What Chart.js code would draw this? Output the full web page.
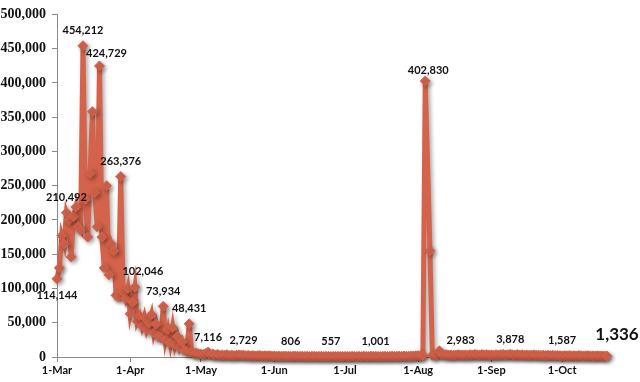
<!DOCTYPE html>
<html><head><meta charset="utf-8">
<script src="https://cdn.jsdelivr.net/npm/chart.js@4/dist/chart.umd.min.js"></script>
<style>html,body{margin:0;padding:0;background:#fff}#wrap{width:640px;height:382px}</style>
</head><body><div id="wrap"><canvas id="c" width="640" height="382"></canvas></div>
<script>
// Categories
const months = ['Mar','Apr','May','Jun','Jul','Aug','Sep','Oct'];
const daysShown = [31,30,31,30,31,31,30,20];

// Daily values per month
const marValues = [114144,130000,177000,165000,210492,200000,146000,205000,219000,190000,185000,454212,230000,175000,268000,358000,240000,190000,424729,175000,130000,250000,120000,165000,155000,90000,88000,263376,95000,85000,100000];
const aprValues = [63000,80000,102046,52000,60000,45000,58000,40000,50000,62000,35000,48000,30000,28000,73934,25000,40000,20000,43000,18000,30000,14000,22000,10000,8000,48431,7000,5000,6000,4500];
const mayValues = [4000,3500,5000,7116,3000,4200,2500,3800,2200,3000,2600,3400,2000,2800,1900,2500,3100,2400,2729,1800,2300,1600,2100,1500,1900,2200,1400,1700,1300,1800,1200];
const junValues = [1500,1100,1300,900,1400,1000,1200,806,1100,1300,900,1000,1200,800,1100,700,950,1050,750,900,1000,650,850,700,557,800,900,650,750,850];
const julValues = [700,900,600,1000,800,650,950,750,1100,850,700,1200,900,1001,800,650,950,1100,750,900,1300,850,1000,1200,900,1400,1100,1000,1300,1500,1800];
const augValues = [2000,1800,2200,402830,null,155000,2400,2500,3000,9000,3500,2800,3200,2600,3000,2400,2900,3300,2983,2700,3100,2500,3400,2900,3600,3100,2800,3500,3000,3300,2700];
const sepValues = [3000,2600,3400,2800,3200,3700,2900,3300,3878,3100,2700,3500,2900,3200,2600,3000,2400,2800,3100,2500,2700,2300,2600,2000,2400,2100,2500,1900,2200,1800];
const octValues = [1587,2000,1700,2200,1600,1900,1500,2100,1800,1400,1700,1900,1500,1600,1300,1800,1400,1600,1500,1336];

// Y axis ticks
const yTickValues = [0,50000,100000,150000,200000,250000,300000,350000,400000,450000,500000];

// Points that carry a data label
const labelledDays = ['1-Mar','5-Mar','12-Mar','19-Mar','28-Mar','3-Apr','15-Apr','26-Apr','4-May','19-May','8-Jun','25-Jun','14-Jul','4-Aug','19-Aug','9-Sep','1-Oct','20-Oct'];

// ---- build table ----
const labels = [];
months.forEach((m, i) => { for (let d = 1; d <= daysShown[i]; d++) labels.push(d + '-' + m); });
const values = [].concat(marValues, aprValues, mayValues, junValues, julValues, augValues, sepValues, octValues);

// label placement styling (not data)
const labelStyle = {
  '1-Mar': {dx: 0, dy: 17},
  '19-Mar': {dx: 7, dy: -13},
  '3-Apr': {dx: 8, dy: -16},
  '4-Aug': {dx: 3, dy: -11},
  '20-Oct': {dx: 10, dy: -22, big: true}
};

const COLOR = '#D5634B';
const fmt = v => Number(v).toLocaleString('en-US');

const shadowPlugin = {
  id: 'shadow',
  beforeDatasetsDraw(chart) {
    const c = chart.ctx; c.save();
    c.shadowColor = 'rgba(0,0,0,0.35)'; c.shadowBlur = 4; c.shadowOffsetX = 2; c.shadowOffsetY = 2;
  },
  afterDatasetsDraw(chart) { chart.ctx.restore(); }
};

const labelPlugin = {
  id: 'dataLabels',
  afterDatasetsDraw(chart) {
    const c = chart.ctx;
    const meta = chart.getDatasetMeta(0);
    c.save();
    c.fillStyle = '#111';
    c.textAlign = 'center';
    c.textBaseline = 'middle';
    labelledDays.forEach(lbl => {
      const i = labels.indexOf(lbl);
      const el = meta.data[i];
      if (!el) return;
      const s = labelStyle[lbl] || {dx: 0, dy: -15};
      c.font = s.big ? 'bold 17px Lato' : 'bold 11px Lato';
      c.fillText(fmt(values[i]), el.x + s.dx, el.y + s.dy);
    });
    c.restore();
  }
};

new Chart(document.getElementById('c'), {
  type: 'line',
  data: {
    labels: labels,
    datasets: [{
      data: values,
      borderColor: COLOR,
      backgroundColor: COLOR,
      borderWidth: 5,
      pointStyle: 'rectRot',
      pointRadius: 5,
      pointBorderWidth: 1,
      pointBorderColor: COLOR,
      pointBackgroundColor: COLOR,
      tension: 0,
      spanGaps: true,
      clip: false
    }]
  },
  options: {
    responsive: false,
    animation: false,
    events: [],
    layout: { padding: { top: 10, right: 33, left: 0, bottom: 0 } },
    plugins: { legend: { display: false }, tooltip: { enabled: false } },
    scales: {
      x: {
        type: 'category',
        offset: false,
        afterFit: s => { s.height = 25; },
        border: { color: '#8a8a8a', width: 1 },
        grid: { display: true, drawOnChartArea: false, drawTicks: true, tickLength: 5, color: '#8a8a8a' },
        ticks: {
          autoSkip: false, maxRotation: 0, minRotation: 0, padding: 2,
          color: '#111', font: { family: 'Lato', weight: 'bold', size: 11 },
          callback: function(v, i) { const l = labels[i]; return l.startsWith('1-') ? l : null; }
        }
      },
      y: {
        min: 0, max: 500000,
        afterFit: s => { s.width = 57; },
        afterBuildTicks: s => { s.ticks = yTickValues.map(v => ({ value: v })); },
        border: { color: '#8a8a8a', width: 1 },
        grid: { display: true, drawOnChartArea: false, drawTicks: true, tickLength: 5, color: '#8a8a8a' },
        ticks: {
          padding: 6, color: '#111',
          font: { family: 'Liberation Serif', weight: 'bold', size: 14 },
          callback: v => fmt(v)
        }
      }
    }
  },
  plugins: [shadowPlugin, labelPlugin]
});
</script>
</body></html>
